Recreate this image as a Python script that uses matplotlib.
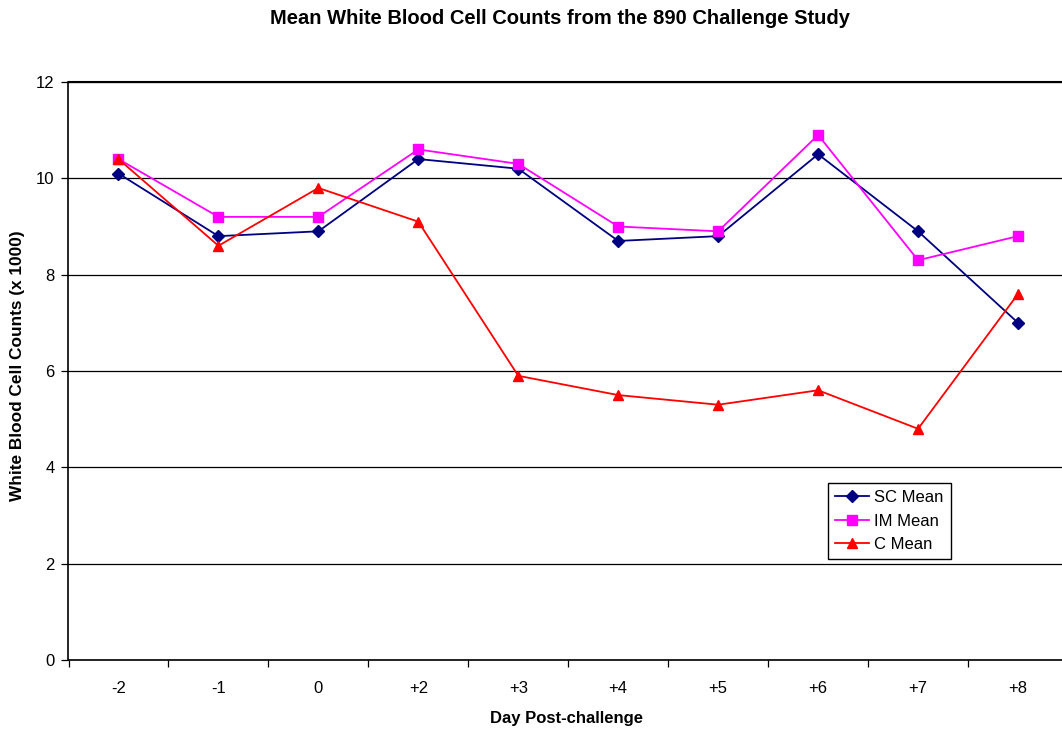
import matplotlib
matplotlib.use("Agg")
import matplotlib.pyplot as plt
import numpy as np

days = ["-2", "-1", "0", "+2", "+3", "+4", "+5", "+6", "+7", "+8"]
sc_mean = [10.1, 8.8, 8.9, 10.4, 10.2, 8.7, 8.8, 10.5, 8.9, 7.0]
im_mean = [10.4, 9.2, 9.2, 10.6, 10.3, 9.0, 8.9, 10.9, 8.3, 8.8]
c_mean = [10.4, 8.6, 9.8, 9.1, 5.9, 5.5, 5.3, 5.6, 4.8, 7.6]
yticks = [0, 2, 4, 6, 8, 10, 12]

plt.rcParams['font.family'] = ['Liberation Sans', 'DejaVu Sans']

W, H = 1062, 732
fig = plt.figure(figsize=(W / 100, H / 100), dpi=100)
left, right, top, bottom = 68.5, 1068, 82, 660
ax = fig.add_axes([left / W, 1 - bottom / H, (right - left) / W, (bottom - top) / H])

x = np.arange(len(days))
ax.plot(x, sc_mean, color='#000080', marker='D', markersize=6, lw=1.3, label='SC Mean', clip_on=False, zorder=3)
ax.plot(x, im_mean, color='#FF00FF', marker='s', markersize=7.5, lw=1.3, label='IM Mean', clip_on=False, zorder=3)
ax.plot(x, c_mean, color='#FF0000', marker='^', markersize=7.5, lw=1.3, label='C Mean', clip_on=False, zorder=3)

ax.set_xlim(-0.5, len(days) - 0.5)
ax.set_ylim(0, 12)
ax.set_yticks(yticks)
ax.set_yticklabels([str(v) for v in yticks], fontsize=12)
ax.yaxis.grid(True, color='black', lw=0.9)
ax.set_axisbelow(True)

ax.set_xticks(x)
ax.set_xticklabels(days, fontsize=12)
ax.tick_params(axis='x', which='major', length=0, pad=15)
ax.set_xticks(np.arange(-0.5, len(days) - 0.4, 1), minor=True)
ax.tick_params(axis='x', which='minor', length=5, width=0.9, direction='out')
ax.tick_params(axis='y', length=5, width=0.9, direction='out', pad=5)

for s in ['left', 'bottom']:
    ax.spines[s].set_linewidth(1.2)
ax.spines['top'].set_linewidth(1.5)
ax.spines['right'].set_visible(False)

fig.text(560 / W, 1 - 18 / H,
         'Mean White Blood Cell Counts from the 890 Challenge Study',
         ha='center', va='center', fontsize=14.5, fontweight='bold')
fig.text(567 / W, 1 - 719 / H, 'Day Post-challenge', ha='center', va='center',
         fontsize=12, fontweight='bold')
fig.text(17.5 / W, 1 - 366 / H, 'White Blood Cell Counts (x 1000)', ha='center', va='center',
         fontsize=12.4, fontweight='bold', rotation=90)

leg = fig.legend(loc='upper left', bbox_to_anchor=(828 / W, 1 - 483 / H), fontsize=12,
                 frameon=True, fancybox=False, edgecolor='black', framealpha=1,
                 borderpad=0.42, labelspacing=0.52, handlelength=2.05, handletextpad=0.3,
                 borderaxespad=0)
leg.get_frame().set_linewidth(1.0)

fig.savefig('out.png', dpi=100)
